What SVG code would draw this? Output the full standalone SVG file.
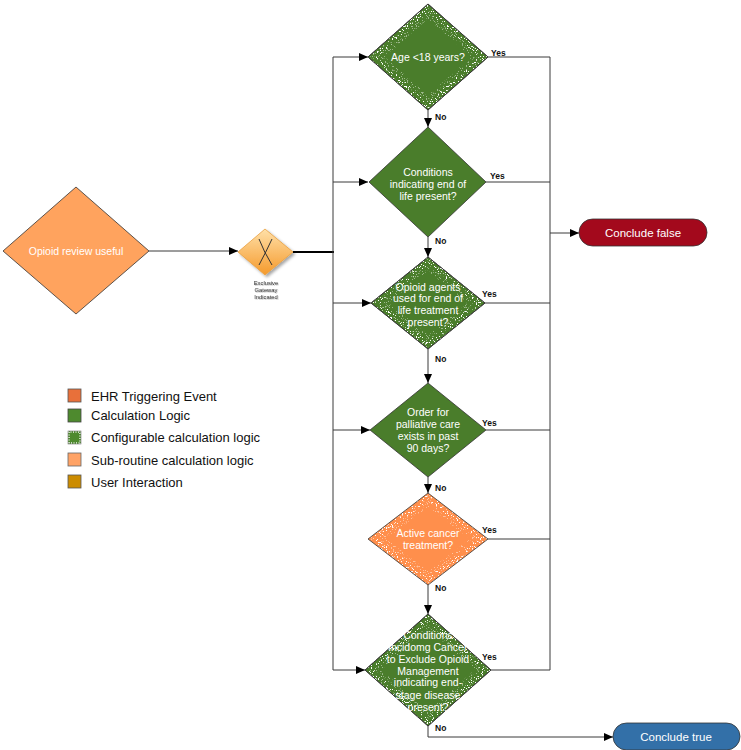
<svg xmlns="http://www.w3.org/2000/svg" width="741" height="750" viewBox="0 0 741 750">
<style>
.bg{fill:#ffffff}
.ln{fill:none;stroke:#3a3a3a;stroke-width:1}
.nt{font-family:"Liberation Sans",Arial,sans-serif;font-size:10.5px;fill:#ffffff;text-anchor:middle}
.yn{font-family:"Liberation Sans",Arial,sans-serif;font-size:8.5px;font-weight:bold;fill:#111}
.lg{font-family:"Liberation Sans",Arial,sans-serif;font-size:13px;fill:#111}
.gd{fill:#4a7d2b;stroke:#333;stroke-width:0.8}
.band{fill:none;stroke:#fff;stroke-width:12}
.band2{fill:none;stroke:#fff;stroke-width:22;opacity:0.45}
.term{stroke:#333;stroke-width:0.8}
.tt{font-family:"Liberation Sans",Arial,sans-serif;font-size:11.5px;fill:#fff;text-anchor:middle}
</style>
<defs>
<marker id="ah" markerWidth="9" markerHeight="8" refX="9" refY="4" orient="auto" markerUnits="userSpaceOnUse">
<path d="M0,0 L9,4 L0,8 z" fill="#000"/>
</marker>
<linearGradient id="gw" x1="0" y1="0" x2="0" y2="1">
<stop offset="0" stop-color="#ffe0a8"/>
<stop offset="1" stop-color="#f59a2c"/>
</linearGradient>
<filter id="sh" x="-30%" y="-30%" width="160%" height="160%">
<feDropShadow dx="2" dy="2" stdDeviation="1.5" flood-color="#000" flood-opacity="0.35"/>
</filter>
<filter id="tsh" x="-10%" y="-30%" width="120%" height="160%">
<feDropShadow dx="0.8" dy="0.8" stdDeviation="0.6" flood-color="#000" flood-opacity="0.3"/>
</filter>
<filter id="spk" x="-20%" y="-20%" width="140%" height="140%">
<feTurbulence type="fractalNoise" baseFrequency="0.8" numOctaves="2" seed="7" result="n"/>
<feColorMatrix in="n" type="matrix" values="0 0 0 0 1  0 0 0 0 1  0 0 0 0 1  16 0 0 0 -9.6" result="m"/>
<feComposite in="m" in2="SourceGraphic" operator="in"/>
</filter>
<clipPath id="c1"><polygon points="428,4 488,57 428,110 368,57"/></clipPath>
<clipPath id="c3"><polygon points="428,257 485,303 428,349 371,303"/></clipPath>
<clipPath id="c5"><polygon points="428,493 488,539 428,585 368,539"/></clipPath>
<clipPath id="c6"><polygon points="428,614 491,670 428,726 365,670"/></clipPath>
<clipPath id="cl"><rect x="68" y="431" width="13" height="13"/></clipPath>
</defs>
<rect class="bg" x="0" y="0" width="741" height="750"/>

<g id="connectors">
<line class="ln" x1="149" y1="251" x2="238" y2="251" marker-end="url(#ah)"/>
<line x1="293" y1="252" x2="334" y2="252" stroke="#000" stroke-width="2"/>
<line class="ln" x1="333" y1="57" x2="333" y2="670"/>
<line class="ln" x1="333" y1="57" x2="368" y2="57" marker-end="url(#ah)"/>
<line class="ln" x1="333" y1="182" x2="368" y2="182" marker-end="url(#ah)"/>
<line class="ln" x1="333" y1="303" x2="371" y2="303" marker-end="url(#ah)"/>
<line class="ln" x1="333" y1="430" x2="370" y2="430" marker-end="url(#ah)"/>
<line class="ln" x1="333" y1="670" x2="365" y2="670" marker-end="url(#ah)"/>
<line class="ln" x1="488" y1="57" x2="550" y2="57"/>
<line class="ln" x1="486" y1="182" x2="550" y2="182"/>
<line class="ln" x1="485" y1="303" x2="550" y2="303"/>
<line class="ln" x1="486" y1="430" x2="550" y2="430"/>
<line class="ln" x1="488" y1="539" x2="550" y2="539"/>
<line class="ln" x1="491" y1="670" x2="550" y2="670"/>
<line class="ln" x1="550" y1="57" x2="550" y2="670"/>
<line class="ln" x1="550" y1="233" x2="579" y2="233" marker-end="url(#ah)"/>
<line class="ln" x1="428" y1="110" x2="428" y2="127" marker-end="url(#ah)"/>
<line class="ln" x1="428" y1="237" x2="428" y2="257" marker-end="url(#ah)"/>
<line class="ln" x1="428" y1="349" x2="428" y2="383" marker-end="url(#ah)"/>
<line class="ln" x1="428" y1="477" x2="428" y2="493" marker-end="url(#ah)"/>
<line class="ln" x1="428" y1="585" x2="428" y2="614" marker-end="url(#ah)"/>
<polyline class="ln" points="428,726 428,737 613,737" marker-end="url(#ah)"/>
<text class="yn" x="491" y="56">Yes</text>
<text class="yn" x="490" y="179">Yes</text>
<text class="yn" x="482" y="297">Yes</text>
<text class="yn" x="482" y="426">Yes</text>
<text class="yn" x="482" y="533">Yes</text>
<text class="yn" x="482" y="660">Yes</text>
<text class="yn" x="435" y="120">No</text>
<text class="yn" x="435" y="244">No</text>
<text class="yn" x="435" y="362">No</text>
<text class="yn" x="435" y="491">No</text>
<text class="yn" x="435" y="591">No</text>
<text class="yn" x="435" y="731">No</text>
</g>

<g id="start">
<polygon points="76,187 149,251 76,314 3,251" fill="#ffa35e" stroke="#333" stroke-width="0.8"/>
<text class="nt" x="76" y="255">Opioid review useful</text>
</g>

<g id="gateway">
<polygon points="265,229 293,252 265,275 238,252" fill="url(#gw)" stroke="#e8a040" stroke-width="0.8" filter="url(#sh)"/>
<path d="M259,239 Q264,252 272,265 M272,239 Q266,252 259,265" fill="none" stroke="#333" stroke-width="1"/>
<g font-family="'Liberation Sans',Arial,sans-serif" font-size="5.8" fill="#333" text-anchor="middle" filter="url(#tsh)">
<text x="266" y="285">Exclusive</text>
<text x="266" y="292">Gateway</text>
<text x="266" y="299">Indicated</text>
</g>
</g>

<g id="age">
<polygon class="gd" points="428,4 488,57 428,110 368,57"/>
<g clip-path="url(#c1)">
<g filter="url(#spk)">
<polygon class="band2" points="428,4 488,57 428,110 368,57"/>
<polygon class="band" points="428,4 488,57 428,110 368,57"/>
</g>
</g>
<polygon points="428,4 488,57 428,110 368,57" fill="none" stroke="#333" stroke-width="0.8"/>
<text class="nt" x="428" y="61">Age &lt;18 years?</text>
</g>

<g id="endoflife">
<polygon class="gd" points="428,127 486,182 428,237 369,182"/>
<text class="nt" x="428" y="176">Conditions</text>
<text class="nt" x="428" y="188">indicating end of</text>
<text class="nt" x="428" y="200">life present?</text>
</g>

<g id="opioidagents">
<polygon class="gd" points="428,257 485,303 428,349 371,303"/>
<g clip-path="url(#c3)">
<g filter="url(#spk)">
<polygon class="band2" points="428,257 485,303 428,349 371,303"/>
<polygon class="band" points="428,257 485,303 428,349 371,303"/>
</g>
</g>
<polygon points="428,257 485,303 428,349 371,303" fill="none" stroke="#333" stroke-width="0.8"/>
<text class="nt" x="428" y="291">Opioid agents</text>
<text class="nt" x="428" y="302">used for end of</text>
<text class="nt" x="428" y="314">life treatment</text>
<text class="nt" x="428" y="326">present?</text>
</g>

<g id="palliative">
<polygon class="gd" points="428,383 486,430 428,477 370,430"/>
<text class="nt" x="428" y="416">Order for</text>
<text class="nt" x="428" y="428">palliative care</text>
<text class="nt" x="428" y="440">exists in past</text>
<text class="nt" x="428" y="452">90 days?</text>
</g>

<g id="cancer">
<polygon points="428,493 488,539 428,585 368,539" fill="#ff8f4c"/>
<g clip-path="url(#c5)">
<g filter="url(#spk)">
<polygon class="band2" points="428,493 488,539 428,585 368,539"/>
<polygon class="band" points="428,493 488,539 428,585 368,539"/>
</g>
</g>
<polygon points="428,493 488,539 428,585 368,539" fill="none" stroke="#333" stroke-width="0.8"/>
<text class="nt" x="428" y="537">Active cancer</text>
<text class="nt" x="428" y="549">treatment?</text>
</g>

<g id="endstage">
<polygon class="gd" points="428,614 491,670 428,726 365,670"/>
<g clip-path="url(#c6)">
<g filter="url(#spk)">
<polygon class="band2" points="428,614 491,670 428,726 365,670"/>
<polygon class="band" points="428,614 491,670 428,726 365,670"/>
</g>
</g>
<polygon points="428,614 491,670 428,726 365,670" fill="none" stroke="#333" stroke-width="0.8"/>
<text class="nt" x="428" y="639">Conditions</text>
<text class="nt" x="428" y="651">incidomg Cancer</text>
<text class="nt" x="428" y="663">to Exclude Opioid</text>
<text class="nt" x="428" y="675">Management</text>
<text class="nt" x="428" y="686">indicating end-</text>
<text class="nt" x="428" y="699">stage disease</text>
<text class="nt" x="428" y="711">present?</text>
</g>

<g id="concludefalse">
<rect class="term" x="579" y="219" width="128" height="27" rx="13.5" fill="#a3091c"/>
<text class="tt" x="643" y="237">Conclude false</text>
</g>

<g id="concludetrue">
<rect class="term" x="613" y="723" width="127" height="27" rx="13.5" fill="#3370a8"/>
<text class="tt" x="676" y="741">Conclude true</text>
</g>

<g id="legend">
<rect x="68" y="389" width="13" height="13" fill="#e8703a" stroke="#555" stroke-width="0.8"/>
<text class="lg" x="91" y="401">EHR Triggering Event</text>
<rect x="68" y="409" width="13" height="13" fill="#4e8a2e" stroke="#444" stroke-width="0.8"/>
<text class="lg" x="91" y="420">Calculation Logic</text>
<rect x="68" y="431" width="13" height="13" fill="#4e8a2e"/>
<g clip-path="url(#cl)">
<rect x="68" y="431" width="13" height="13" fill="none" stroke="#fff" stroke-width="4" stroke-dasharray="1 1.5" opacity="0.7"/>
</g>
<rect x="68" y="431" width="13" height="13" fill="none" stroke="#777" stroke-width="0.6"/>
<text class="lg" x="91" y="442">Configurable calculation logic</text>
<rect x="68" y="453" width="13" height="13" fill="#ffa366" stroke="#666" stroke-width="0.8"/>
<text class="lg" x="91" y="465">Sub-routine calculation logic</text>
<rect x="68" y="475" width="13" height="13" fill="#cc8c00" stroke="#555" stroke-width="0.8"/>
<text class="lg" x="91" y="487">User Interaction</text>
</g>
</svg>
